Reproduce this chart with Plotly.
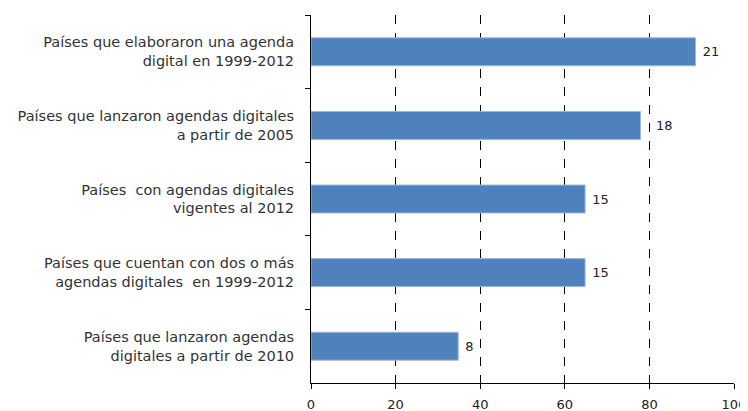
import plotly.graph_objects as go

categories = [
    "Países que elaboraron una agenda<br>digital en 1999-2012",
    "Países que lanzaron agendas digitales<br>a partir de 2005",
    "Países  con agendas digitales<br>vigentes al 2012",
    "Países que cuentan con dos o más<br>agendas digitales  en 1999-2012",
    "Países que lanzaron agendas<br>digitales a partir de 2010",
]
counts = [21, 18, 15, 15, 8]
percents = [90.9, 77.9, 64.8, 64.8, 34.8]
x_ticks = [0, 20, 40, 60, 80, 100]
label_pads = [" ", "   ", " ", " ", " "]  # keeps the "18" label clear of the 80 gridline

FONT = "DejaVu Sans, Verdana, sans-serif"

fig = go.Figure(go.Bar(
    x=percents,
    y=categories,
    orientation="h",
    text=[p + str(c) for p, c in zip(label_pads, counts)],
    textposition="outside",
    textfont=dict(family=FONT, size=13, color="#222222"),
    marker=dict(color="#4F81BD", line=dict(color="#9DB8DC", width=1)),
    cliponaxis=False,
    width=0.38,
    hoverinfo="skip",
))

# page body has an 8px margin, so the figure is sized to fill the rest of the window
fig.update_layout(
    width=740, height=403,
    margin=dict(l=303, r=14, t=7, b=28, pad=0),
    paper_bgcolor="white", plot_bgcolor="white",
    showlegend=False,
    font=dict(family=FONT, size=13, color="#333333"),
)
fig.update_xaxes(
    range=[0, 100], tickvals=x_ticks, ticktext=[str(v) for v in x_ticks],
    showgrid=True, gridcolor="#000000", griddash="dash", gridwidth=1,
    showline=True, linecolor="#000000", linewidth=1,
    ticks="outside", ticklen=5, tickcolor="#000000",
    zeroline=False, automargin=False,
    ticklabelstandoff=4,
    tickfont=dict(family=FONT, size=13, color="#222222"),
)
fig.update_yaxes(
    autorange="reversed",
    showline=True, linecolor="#000000", linewidth=1,
    ticks="outside", ticklen=5, tickcolor="#000000",
    tickson="boundaries",
    showgrid=False, automargin=False,
    ticklabelstandoff=13,
    tickfont=dict(family=FONT, size=14.5, color="#333333"),
)

fig.write_html("out.html")
